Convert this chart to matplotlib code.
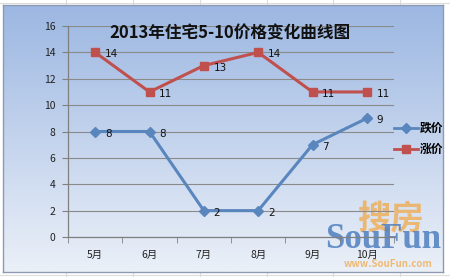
import matplotlib
matplotlib.use("Agg")
import matplotlib.pyplot as plt
import numpy as np
from matplotlib.lines import Line2D

plt.rcParams['font.family'] = ['Noto Sans CJK SC', 'DejaVu Sans']

title = "2013年住宅5-10价格变化曲线图"
categories = ["5月", "6月", "7月", "8月", "9月", "10月"]
fall = [8, 8, 2, 2, 7, 9]
rise = [14, 11, 13, 14, 11, 11]
series_names = ["跌价", "涨价"]
yticks = [0, 2, 4, 6, 8, 10, 12, 14, 16]

W, H = 450, 277
fig = plt.figure(figsize=(4.5, 2.77), dpi=100)
fig.patch.set_facecolor("white")

# spreadsheet grid lines behind
for xv in [66, 133, 200, 267, 333, 400]:
    fig.add_artist(Line2D([xv / W, xv / W], [0, 1], color="#dcdcdc", lw=0.8, zorder=0))
for yv in [3, 275]:
    fig.add_artist(Line2D([0, 1], [1 - yv / H, 1 - yv / H], color="#dcdcdc", lw=0.8, zorder=0))

# chart area gradient
cx0, cx1, cy0, cy1 = 3, 443, 5, 272
bg = fig.add_axes([cx0 / W, 1 - cy1 / H, (cx1 - cx0) / W, (cy1 - cy0) / H], zorder=0)
top = np.array([0x9c, 0xb7, 0xe2]) / 255
bot = np.array([0xeb, 0xf0, 0xf8]) / 255
t = np.linspace(0, 1, 256)[:, None]
grad = top[None, :] * (1 - t) + bot[None, :] * t
bg.imshow(grad[:, None, :], aspect="auto", extent=[0, 1, 0, 1])
bg.set_xticks([]); bg.set_yticks([])
for s in bg.spines.values():
    s.set_color("#8c9bb0"); s.set_linewidth(1.0)

# watermark
fig.text(390 / W, 1 - 219 / H, "搜房", color="#f0a94a", alpha=0.75, fontsize=24,
         fontweight="bold", ha="center", va="center", zorder=1)
fig.text(383 / W, 1 - 239 / H, "SouFun", color="#4f7fbf", alpha=0.85, fontsize=25,
         family=["Liberation Serif", "DejaVu Serif"], fontweight="bold", ha="center", va="center", zorder=1)
fig.text(388 / W, 1 - 264 / H, "www.SouFun.com", color="#f0a94a", alpha=0.75, fontsize=7,
         fontweight="bold", ha="center", va="center", zorder=1)

ax = fig.add_axes([68 / W, 1 - 237 / H, (394 - 68) / W, (237 - 26) / H], zorder=2)
ax.patch.set_alpha(0)
x = np.arange(len(categories))
blue = "#5a86be"
red = "#c0504d"
ax.plot(x, fall, color=blue, lw=2.2, marker="D", ms=5, mfc=blue, mec=blue, zorder=3)
ax.plot(x, rise, color=red, lw=2.2, marker="s", ms=6, mfc=red, mec=red, zorder=3)
for xi, v in zip(x, fall):
    ax.annotate(str(v), (xi, v), xytext=(7, -1.5), textcoords="offset points",
                ha="left", va="center", fontsize=7.5, color="#111111", family=["DejaVu Sans"])
for xi, v in zip(x, rise):
    ax.annotate(str(v), (xi, v), xytext=(7, -1.5), textcoords="offset points",
                ha="left", va="center", fontsize=7.5, color="#111111", family=["DejaVu Sans"])

ax.set_xlim(-0.5, len(categories) - 0.5)
ax.set_ylim(0, 16)
ax.set_yticks(yticks)
ax.set_yticklabels([str(v) for v in yticks], fontsize=7.5, color="#222222")
ax.set_xticks(x)
ax.set_xticklabels(categories, fontsize=7.5, color="#222222")
ax.set_xticks(np.arange(-0.5, len(categories)), minor=True)
ax.tick_params(axis="x", which="major", length=0, pad=9)
ax.tick_params(axis="x", which="minor", length=4, color="#808080", direction="out")
ax.tick_params(axis="y", length=4, color="#808080", direction="out", pad=5)
ax.grid(axis="y", color="#8a8a8a", lw=0.8)
ax.set_axisbelow(True)
for side in ["top", "right"]:
    ax.spines[side].set_visible(False)
for side in ["left", "bottom"]:
    ax.spines[side].set_color("#808080")
    ax.spines[side].set_linewidth(0.9)

fig.text(230 / W, 1 - 33 / H, title, fontsize=12, fontweight="bold", ha="center",
         va="center", color="#111111", zorder=5)

handles = [Line2D([], [], color=blue, lw=2, marker="D", ms=5),
           Line2D([], [], color=red, lw=2, marker="s", ms=6)]
leg = fig.legend(handles, series_names, loc="center left",
                 bbox_to_anchor=(394 / W, 1 - 139 / H), frameon=False,
                 prop={"size": 8.5, "weight": "bold", "family": ["Noto Sans CJK SC"]},
                 handlelength=2.0, handletextpad=0.2, labelspacing=0.7, borderaxespad=0,
                 borderpad=0)

fig.savefig("out.png", dpi=100, facecolor="white")
